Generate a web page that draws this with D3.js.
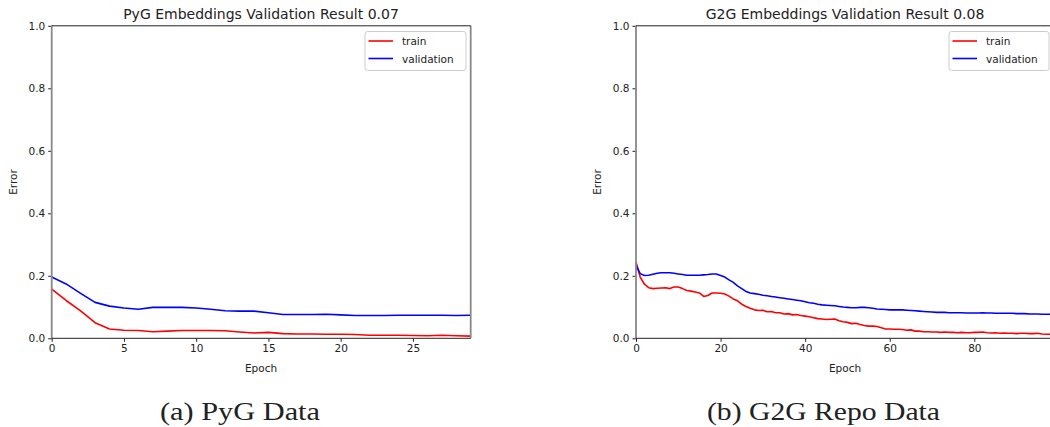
<!DOCTYPE html>
<html>
<head>
<script src="https://cdn.jsdelivr.net/npm/d3@7"></script>
  <meta charset="utf-8">
  <title>Embeddings Validation</title>
<style>
  body { margin: 0; background: #fff; }
  svg text { font-family: "DejaVu Sans", sans-serif; fill: #222; }
</style>
</head>
<body>

<svg id="chart" width="1050" height="427"></svg>

<script>

	// left panel: PyG data, 30 epochs
	var pygEpochs = d3.range(0, 30);
	var pygTrain = [0.157, 0.121, 0.088, 0.050, 0.030, 0.026, 0.025, 0.021, 0.023, 0.025,
		0.025, 0.025, 0.024, 0.020, 0.017, 0.019, 0.015, 0.014, 0.014, 0.013,
		0.013, 0.012, 0.010, 0.010, 0.010, 0.009, 0.008, 0.010, 0.008, 0.007];
	var pygVal = [0.196, 0.174, 0.144, 0.115, 0.103, 0.097, 0.093, 0.099, 0.099, 0.099,
		0.097, 0.093, 0.088, 0.087, 0.087, 0.082, 0.076, 0.076, 0.076, 0.077,
		0.075, 0.073, 0.073, 0.073, 0.074, 0.074, 0.074, 0.074, 0.073, 0.074];

	// right panel: G2G repo data, 100 epochs
	var g2gEpochs = d3.range(0, 100);
	var g2gTrain = [0.244, 0.196, 0.173, 0.162, 0.159, 0.160, 0.161, 0.162, 0.159, 0.164,
		0.164, 0.159, 0.153, 0.151, 0.148, 0.145, 0.134, 0.137, 0.145, 0.145,
		0.144, 0.142, 0.135, 0.126, 0.120, 0.109, 0.102, 0.096, 0.091, 0.089,
		0.090, 0.085, 0.086, 0.082, 0.082, 0.078, 0.079, 0.075, 0.076, 0.073,
		0.071, 0.069, 0.066, 0.063, 0.062, 0.060, 0.061, 0.062, 0.056, 0.053,
		0.051, 0.047, 0.048, 0.044, 0.041, 0.039, 0.039, 0.038, 0.034, 0.030,
		0.030, 0.029, 0.029, 0.028, 0.026, 0.027, 0.023, 0.023, 0.021, 0.021,
		0.020, 0.020, 0.019, 0.020, 0.019, 0.019, 0.018, 0.019, 0.018, 0.018,
		0.019, 0.019, 0.020, 0.018, 0.017, 0.018, 0.016, 0.017, 0.016, 0.016,
		0.015, 0.016, 0.016, 0.015, 0.015, 0.016, 0.014, 0.013, 0.013, 0.013];
	var g2gVal = [0.233, 0.207, 0.201, 0.202, 0.205, 0.208, 0.210, 0.210, 0.210, 0.208,
		0.206, 0.204, 0.202, 0.202, 0.202, 0.202, 0.203, 0.204, 0.206, 0.206,
		0.201, 0.196, 0.187, 0.179, 0.168, 0.159, 0.150, 0.145, 0.143, 0.141,
		0.138, 0.136, 0.134, 0.132, 0.130, 0.128, 0.126, 0.124, 0.122, 0.120,
		0.117, 0.114, 0.112, 0.109, 0.107, 0.106, 0.105, 0.104, 0.102, 0.100,
		0.099, 0.098, 0.098, 0.099, 0.099, 0.098, 0.096, 0.094, 0.093, 0.092,
		0.091, 0.091, 0.091, 0.091, 0.090, 0.089, 0.088, 0.087, 0.086, 0.085,
		0.084, 0.083, 0.083, 0.083, 0.082, 0.082, 0.082, 0.082, 0.081, 0.081,
		0.081, 0.081, 0.082, 0.081, 0.081, 0.080, 0.080, 0.080, 0.080, 0.080,
		0.079, 0.079, 0.079, 0.078, 0.078, 0.078, 0.077, 0.077, 0.077, 0.077];

	var yTicks = [0.0, 0.2, 0.4, 0.6, 0.8, 1.0];
	var pygTicks = [0, 5, 10, 15, 20, 25];
	var g2gTicks = [0, 20, 40, 60, 80];
	var seriesNames = ['train', 'validation'];
	var seriesColors = ['#ff0000', '#0000ff'];

	var svg = d3.select('#chart');

	//draw one panel of the figure
	function drawPanel(p) {
		var x = d3.scaleLinear().domain(p.xDomain).range([p.left, p.right]);
		var y = d3.scaleLinear().domain([0, 1]).range([338.3, 25.8]);
		var g = svg.append('g');

		//y axis, ticks only (spine is drawn separately)
		var yAxis = g.append('g')
			.attr('transform', 'translate(' + p.left + ',0)')
			.call(d3.axisLeft(y).tickValues(yTicks).tickFormat(d3.format('.1f')).tickSize(3.5).tickPadding(3));
		yAxis.select('.domain').remove();

		var xAxis = g.append('g')
			.attr('transform', 'translate(0,338.3)')
			.call(d3.axisBottom(x).tickValues(p.xTicks).tickFormat(d3.format('d')).tickSize(3.5).tickPadding(3));
		xAxis.select('.domain').remove();

		g.selectAll('.tick text').attr('font-size', 10.5).style('font-family', '"DejaVu Sans", sans-serif').attr('fill', '#222');
		g.selectAll('.tick line').attr('stroke', '#222');

		//lines
		var line = d3.line()
			.x(function(d, i) { return x(p.epochs[i]); })
			.y(function(d) { return y(d); });

		[p.train, p.val].forEach(function(vals, i) {
			g.append('path')
				.datum(vals)
				.attr('fill', 'none')
				.attr('stroke', seriesColors[i])
				.attr('stroke-width', 1.6)
				.attr('stroke-linejoin', 'round')
				.attr('d', line);
		});

		//spines: left & right grey, top & bottom dark
		g.append('line').attr('x1', p.left).attr('x2', p.left).attr('y1', 25.8).attr('y2', 338.3)
			.attr('stroke', '#888').attr('stroke-width', 1.8);
		g.append('line').attr('x1', p.right).attr('x2', p.right).attr('y1', 25.8).attr('y2', 338.3)
			.attr('stroke', '#888').attr('stroke-width', 1.8);
		g.append('line').attr('x1', p.left).attr('x2', p.right).attr('y1', 25.8).attr('y2', 25.8)
			.attr('stroke', '#222').attr('stroke-width', 1);
		g.append('line').attr('x1', p.left).attr('x2', p.right).attr('y1', 338.3).attr('y2', 338.3)
			.attr('stroke', '#222').attr('stroke-width', 1);

		//title and axis labels
		g.append('text').attr('x', p.titleX).attr('y', 18.5).attr('text-anchor', 'middle')
			.attr('font-size', 14).text(p.title);
		g.append('text').attr('x', p.labelX).attr('y', 372).attr('text-anchor', 'middle')
			.attr('font-size', 10.5).text('Epoch');
		g.append('text').attr('transform', 'translate(' + p.yLabelX + ',182) rotate(-90)')
			.attr('text-anchor', 'middle').attr('font-size', 10.5).text('Error');

		//legend
		var lg = g.append('g').attr('transform', 'translate(' + p.legendX + ',31.5)');
		lg.append('rect').attr('width', p.legendW).attr('height', 39).attr('rx', 2.5)
			.attr('fill', '#fff').attr('fill-opacity', 0.8).attr('stroke', '#ccc').attr('stroke-width', 1);
		seriesNames.forEach(function(name, i) {
			lg.append('line').attr('x1', 3.5).attr('x2', 28).attr('y1', 9.5 + i * 17.5).attr('y2', 9.5 + i * 17.5)
				.attr('stroke', seriesColors[i]).attr('stroke-width', 1.6);
			lg.append('text').attr('x', 37).attr('y', 13.5 + i * 17.5).attr('font-size', 10.5).text(name);
		});

		//caption
		svg.append('text').attr('x', p.captionX).attr('y', 420).attr('text-anchor', 'middle')
			.style('font-family', '"Liberation Serif", serif').attr('font-size', 26).attr('fill', '#111')
			.attr('textLength', p.captionW).attr('lengthAdjust', 'spacingAndGlyphs')
			.text(p.caption);
	}

	drawPanel({
		epochs: pygEpochs, train: pygTrain, val: pygVal,
		xDomain: [0, 29], xTicks: pygTicks, left: 51.7, right: 470.7,
		title: 'PyG Embeddings Validation Result 0.07', titleX: 261,
		labelX: 261, yLabelX: 17, legendX: 365, legendW: 101,
		caption: '(a) PyG Data', captionX: 240, captionW: 160
	});

	drawPanel({
		epochs: g2gEpochs, train: g2gTrain, val: g2gVal,
		xDomain: [0, 99], xTicks: g2gTicks, left: 636, right: 636 + 99 * 4.229,
		title: 'G2G Embeddings Validation Result 0.08', titleX: 845,
		labelX: 845, yLabelX: 601, legendX: 949, legendW: 100,
		caption: '(b) G2G Repo Data', captionX: 823.5, captionW: 233
	});

</script>
</body>

</html>
